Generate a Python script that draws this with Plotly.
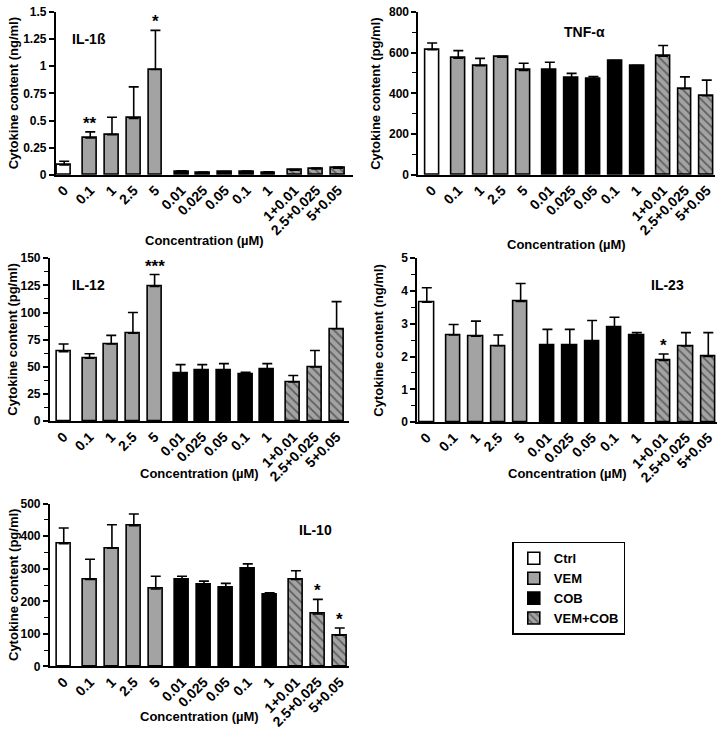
import plotly.graph_objects as go

# ---------------- data ----------------
categories = ["0", "0.1", "1", "2.5", "5", "0.01", "0.025", "0.05", "0.1", "1",
              "1+0.01", "2.5+0.025", "5+0.05"]
groups = ["Ctrl", "VEM", "VEM", "VEM", "VEM", "COB", "COB", "COB", "COB", "COB",
          "VEM+COB", "VEM+COB", "VEM+COB"]
group_names = ["Ctrl", "VEM", "COB", "VEM+COB"]

il1b_mean = [0.09, 0.34, 0.37, 0.52, 0.97, 0.03, 0.022, 0.025, 0.028, 0.022, 0.042, 0.055, 0.06]
il1b_err = [0.035, 0.055, 0.16, 0.29, 0.36, 0.008, 0.004, 0.005, 0.006, 0.005, 0.006, 0.008, 0.012]
il1b_sig = ["", "**", "", "", "*", "", "", "", "", "", "", "", ""]

tnf_mean = [615, 573, 536, 578, 513, 515, 474, 470, 559, 535, 583, 423, 388]
tnf_err = [32, 37, 36, 4, 35, 38, 24, 12, 2, 2, 52, 58, 77]
tnf_sig = [""] * 13

il12_mean = [64, 58, 71, 81, 124, 44, 47, 47, 43, 48, 36, 50, 85]
il12_err = [7, 4, 8, 19, 11, 8, 5, 6, 2, 5, 6, 15, 25]
il12_sig = ["", "", "", "", "***", "", "", "", "", "", "", "", ""]

il23_mean = [3.66, 2.66, 2.62, 2.33, 3.68, 2.34, 2.36, 2.48, 2.9, 2.64, 1.88, 2.32, 2.0]
il23_err = [0.44, 0.32, 0.46, 0.33, 0.55, 0.49, 0.47, 0.62, 0.3, 0.09, 0.2, 0.41, 0.73]
il23_sig = ["", "", "", "", "", "", "", "", "", "", "*", "", ""]

il10_mean = [377, 267, 363, 432, 238, 267, 252, 241, 302, 220, 267, 161, 96]
il10_err = [48, 62, 72, 36, 39, 10, 10, 14, 13, 6, 27, 45, 22]
il10_sig = ["", "", "", "", "", "", "", "", "", "", "", "*", "*"]

# ---------------- styling ----------------
W, H = 721, 751
FONT = "Liberation Sans, Arial, sans-serif"
fills = {"Ctrl": "#ffffff", "VEM": "#a3a3a3", "COB": "#000000", "VEM+COB": "#a3a3a3"}

panels = [
    dict(label="IL-1ß", mean=il1b_mean, err=il1b_err, sig=il1b_sig,
         ytitle="Cytokine content (ng/ml)", px=(55, 352), py=(5, 171),
         xr=(-0.38, 13.27), yr=(0, 1.5), dtick=0.25, minor=None,
         lab=(88, 33), ytx=12, xty=238),
    dict(label="TNF-α", mean=tnf_mean, err=tnf_err, sig=tnf_sig,
         ytitle="Cytokine content (pg/ml)", px=(418, 715), py=(5, 171),
         xr=(-0.63, 12.98), yr=(0, 800), dtick=200, minor=100,
         lab=(584, 25), ytx=375, xty=242),
    dict(label="IL-12", mean=il12_mean, err=il12_err, sig=il12_sig,
         ytitle="Cytokine content (pg/ml)", px=(49, 348), py=(256, 422),
         xr=(-0.63, 13.15), yr=(0, 150), dtick=25, minor=12.5,
         lab=(88, 283), ytx=12, xty=475),
    dict(label="IL-23", mean=il23_mean, err=il23_err, sig=il23_sig,
         ytitle="Cytokine content (ng/ml)", px=(417, 717), py=(256, 423),
         xr=(-0.42, 12.99), yr=(0, 5), dtick=1, minor=0.5,
         lab=(667, 283), ytx=378, xty=475),
    dict(label="IL-10", mean=il10_mean, err=il10_err, sig=il10_sig,
         ytitle="Cytokine content (pg/ml)", px=(49, 348), py=(506, 672),
         xr=(-0.63, 13.0), yr=(0, 500), dtick=100, minor=50,
         lab=(315, 533), ytx=12, xty=723),
]

# x positions: unit spacing with an extra gap between groups
gidx = [group_names.index(g) for g in groups]
pos = [i + 0.2 * g for i, g in enumerate(gidx)]

fig = go.Figure()
annotations = []

for k, p in enumerate(panels):
    n = "" if k == 0 else str(k + 1)
    xa, ya = "x" + n, "y" + n
    for gname in group_names:
        idx = [i for i, g in enumerate(groups) if g == gname]
        marker = dict(color=fills[gname], line=dict(color="black", width=1.6))
        if gname == "VEM+COB":
            marker["pattern"] = dict(shape="\\", fgcolor="#1a1a1a", bgcolor=fills[gname],
                                     size=6, solidity=0.3, fillmode="overlay")
        fig.add_trace(go.Bar(
            x=[pos[i] for i in idx], y=[p["mean"][i] for i in idx],
            width=0.64, marker=marker, name=gname, legendgroup=gname,
            showlegend=(k == 0), xaxis=xa, yaxis=ya,
            error_y=dict(type="data", symmetric=False,
                         array=[p["err"][i] for i in idx],
                         arrayminus=[0] * len(idx),
                         color="black", thickness=1.6, width=5),
        ))
    xd = [p["px"][0] / W, p["px"][1] / W]
    yd = [1 - p["py"][1] / H, 1 - p["py"][0] / H]
    xkey = "xaxis" + n
    ykey = "yaxis" + n
    fig.layout[xkey] = dict(
        domain=xd, range=list(p["xr"]), anchor=ya, tickmode="array",
        tickvals=pos, ticktext=categories, tickangle=-45, ticks="",
        showline=True, linecolor="black", linewidth=2, showgrid=False, zeroline=False,
        tickfont=dict(family=FONT, size=14, color="black", weight="bold"),
    )
    yax = dict(
        domain=yd, range=list(p["yr"]), anchor=xa, dtick=p["dtick"], tick0=0,
        ticks="outside", ticklen=5, tickwidth=1.6, tickcolor="black",
        showline=True, linecolor="black", linewidth=2, showgrid=False, zeroline=False,
        tickfont=dict(family=FONT, size=12, color="black", weight="bold"),
    )
    if p["minor"]:
        yax["minor"] = dict(dtick=p["minor"], tick0=0, ticks="outside", ticklen=4,
                            tickwidth=1.4, tickcolor="black", showgrid=False)
    fig.layout[ykey] = yax

    # y-axis title
    annotations.append(dict(
        text=p["ytitle"], textangle=-90, xref="paper", yref="paper",
        x=p["ytx"] / W, y=(yd[0] + yd[1]) / 2, xanchor="center", yanchor="middle",
        showarrow=False, font=dict(family=FONT, size=13, color="black", weight="bold")))
    # x-axis title
    annotations.append(dict(
        text="Concentration (µM)", xref="paper", yref="paper",
        x=(xd[0] + xd[1]) / 2, y=1 - p["xty"] / H, xanchor="center", yanchor="middle",
        showarrow=False, font=dict(family=FONT, size=13, color="black", weight="bold")))
    # panel label
    annotations.append(dict(
        text=p["label"], xref="paper", yref="paper",
        x=p["lab"][0] / W, y=1 - p["lab"][1] / H, xanchor="center", yanchor="middle",
        showarrow=False, font=dict(family=FONT, size=14, color="black", weight="bold")))
    # significance stars
    for i, s in enumerate(p["sig"]):
        if s:
            annotations.append(dict(
                text=s, xref=xa, yref=ya, x=pos[i], y=p["mean"][i] + p["err"][i],
                xanchor="center", yanchor="bottom", yshift=-3, showarrow=False,
                font=dict(family=FONT, size=17, color="black", weight="bold")))

fig.update_layout(
    width=W, height=H, margin=dict(l=0, r=0, t=0, b=0),
    paper_bgcolor="white", plot_bgcolor="white",
    barmode="overlay", bargap=0,
    annotations=annotations,
    legend=dict(x=512 / W, y=1 - 545 / H, xanchor="left", yanchor="top",
                bordercolor="black", borderwidth=1.5, bgcolor="white",
                font=dict(family=FONT, size=13, color="black", weight="bold"),
                tracegroupgap=0, itemwidth=30),
    font=dict(family=FONT, color="black"),
)

fig.write_html("out.html", config={"displayModeBar": False},
               post_script="document.body.style.margin='0';")
